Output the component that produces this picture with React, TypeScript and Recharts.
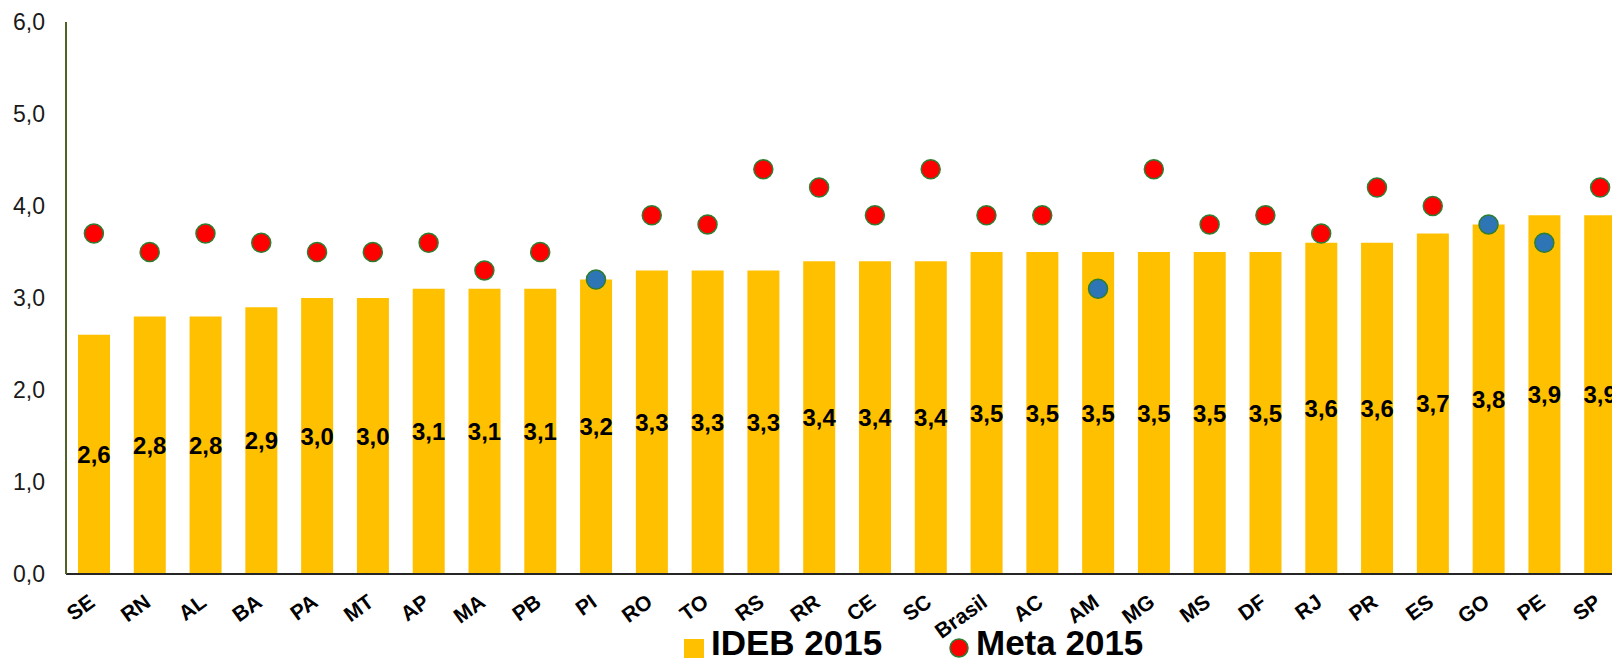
import React from "react";
import {
  ComposedChart,
  Bar,
  Scatter,
  XAxis,
  YAxis,
  LabelList,
  Legend,
} from "recharts";

const ufs = [
  "SE", "RN", "AL", "BA", "PA", "MT", "AP", "MA", "PB", "PI", "RO", "TO", "RS", "RR",
  "CE", "SC", "Brasil", "AC", "AM", "MG", "MS", "DF", "RJ", "PR", "ES", "GO", "PE", "SP",
];
const ideb2015 = [
  2.6, 2.8, 2.8, 2.9, 3.0, 3.0, 3.1, 3.1, 3.1, 3.2, 3.3, 3.3, 3.3, 3.4,
  3.4, 3.4, 3.5, 3.5, 3.5, 3.5, 3.5, 3.5, 3.6, 3.6, 3.7, 3.8, 3.9, 3.9,
];
const meta2015 = [
  3.7, 3.5, 3.7, 3.6, 3.5, 3.5, 3.6, 3.3, 3.5, 3.2, 3.9, 3.8, 4.4, 4.2,
  3.9, 4.4, 3.9, 3.9, 3.1, 4.4, 3.8, 3.9, 3.7, 4.2, 4.0, 3.8, 3.6, 4.2,
];
const yTicks = [0, 1, 2, 3, 4, 5, 6];
const seriesNames = ["IDEB 2015", "Meta 2015"];

const data = ufs.map((uf, i) => ({ uf, ideb: ideb2015[i], meta: meta2015[i] }));

const FONT = "'Liberation Sans', Arial, sans-serif";
const BAR_COLOR = "#FFC000";
const RED = "#FF0000";
const BLUE = "#2E75B6";
const DOT_STROKE = "#2E7D32";

const fmt = (v: any) => Number(v).toFixed(1).replace(".", ",");

const XTick = (props: any) => {
  const { x, y, payload } = props;
  return (
    <g transform={`translate(${x - 2},${y + 25}) rotate(-36)`}>
      <text
        x={0}
        y={0}
        dy="0.35em"
        textAnchor="end"
        fontFamily={FONT}
        fontSize={21}
        fontWeight="bold"
        fill="#000"
      >
        {payload.value}
      </text>
    </g>
  );
};

const Dot = (props: any) => {
  const { cx, cy, payload } = props;
  if (cx == null || cy == null) return null;
  const met = payload.ideb >= payload.meta;
  return (
    <circle
      cx={cx}
      cy={cy}
      r={9.5}
      fill={met ? BLUE : RED}
      stroke={DOT_STROKE}
      strokeWidth={1.5}
    />
  );
};

const LegendContent = () => (
  <svg width={1612} height={46} style={{ display: "block" }}>
    <rect x={684} y={22} width={20} height={19} fill={BAR_COLOR} />
    <text x={711} y={38} fontFamily={FONT} fontSize={35} fontWeight="bold" fill="#000">
      {seriesNames[0]}
    </text>
    <circle cx={959} cy={31} r={9} fill={RED} stroke={DOT_STROKE} strokeWidth={1.5} />
    <text x={976} y={38} fontFamily={FONT} fontSize={35} fontWeight="bold" fill="#000">
      {seriesNames[1]}
    </text>
  </svg>
);

export default function App() {
  return (
    <div
      style={{
        position: "absolute",
        left: 0,
        top: 0,
        width: 1612,
        height: 663,
        overflow: "hidden",
        background: "#fff",
      }}
    >
      <ComposedChart
        width={1660}
        height={663}
        data={data}
        margin={{ top: 22, right: 32, bottom: 0, left: 0 }}
      >
        <XAxis
          dataKey="uf"
          height={43}
          interval={0}
          tickSize={0}
          tickMargin={0}
          tick={<XTick />}
          axisLine={{ stroke: "#262626", strokeWidth: 2 }}
        />
        <YAxis
          width={66}
          domain={[0, 6]}
          ticks={yTicks}
          tickFormatter={fmt}
          tickSize={0}
          tickMargin={21}
          tick={{ fontFamily: FONT, fontSize: 23, fill: "#1a1a1a" }}
          axisLine={{ stroke: "#4F6228", strokeWidth: 2 }}
          tickLine={false}
        />
        <Legend
          verticalAlign="bottom"
          content={<LegendContent />}
          wrapperStyle={{ left: 0, width: 1612, height: 46 }}
        />
        <Bar
          dataKey="ideb"
          name={seriesNames[0]}
          fill={BAR_COLOR}
          barSize={32}
          isAnimationActive={false}
        >
          <LabelList
            dataKey="ideb"
            position="center"
            formatter={fmt}
            fontFamily={FONT}
            fontSize={24}
            fontWeight="bold"
            fill="#000"
          />
        </Bar>
        <Scatter
          dataKey="meta"
          name={seriesNames[1]}
          fill={RED}
          shape={<Dot />}
          isAnimationActive={false}
        />
      </ComposedChart>
    </div>
  );
}
